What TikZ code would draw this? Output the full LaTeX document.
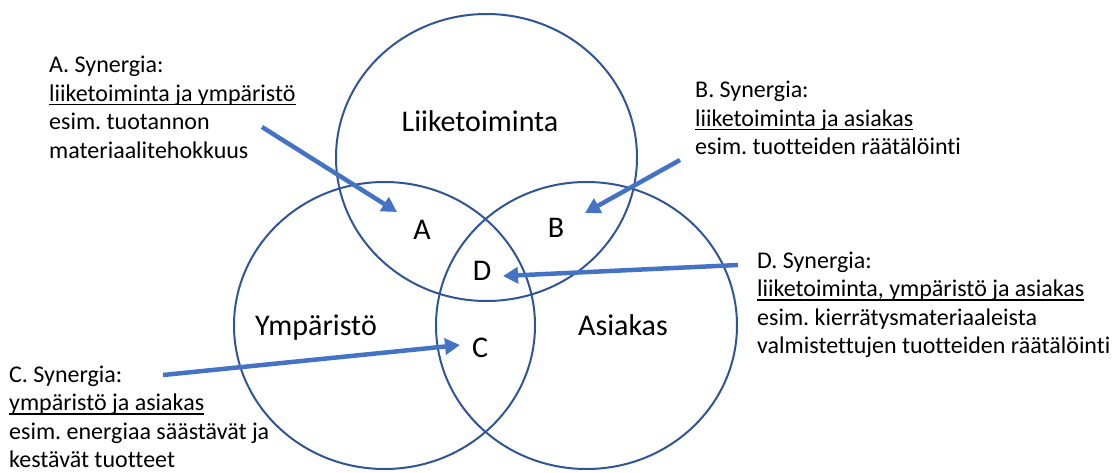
\documentclass[tikz,border=0pt]{standalone}
\usepackage{fontspec}
\setmainfont[Ligatures=NoCommon]{Carlito}
\frenchspacing
\usetikzlibrary{arrows.meta,shapes.geometric}
\definecolor{ringblue}{HTML}{2F5597}
\definecolor{arrowblue}{HTML}{4472C4}
% underline set at a fixed depth below the baseline
\newcommand{\ulbar}[1]{\setbox0=\hbox{#1}\rlap{\rule[-4pt]{\wd0}{1.3pt}}\box0}
% stacked lines whose baseline is that of the first line
\newcommand{\lines}[1]{\vtop{\baselineskip=28.5pt\lineskiplimit=-20pt #1}}
\tikzset{
  ring/.style={ellipse, draw=ringblue, line width=2pt, minimum width=301pt,
    minimum height=287pt, inner sep=0pt},
  setname/.style={font=\fontsize{30}{36}\selectfont, anchor=base, inner sep=0pt},
  note/.style={font=\fontsize{24}{28.5}\selectfont, anchor=base west, inner sep=0pt},
  pointer/.style={draw=arrowblue, line width=4.5pt, -{Triangle[length=15pt,width=16pt]}},
}
\begin{document}
\begin{tikzpicture}[x=1pt,y=-1pt]
\path[use as bounding box] (0,0) rectangle (1116,473);

% the three sets
\node[ring] (biz)  at (486.5,157.5) {};
\node[ring] (env)  at (384.5,325.5) {};
\node[ring] (cust) at (586.5,325.5) {};

% set names
\node[setname] (lbiz)  at (480,132) {Liiketoiminta};
\node[setname] (lenv)  at (316,335) {Ympäristö};
\node[setname] (lcust) at (623,335) {Asiakas};

% overlap letters
\node[setname] (ra) at (422,240) {A};
\node[setname] (rb) at (556,237) {B};
\node[setname] (rd) at (482,280) {D};
\node[setname] (rc) at (480,357) {C};

% explanations
\node[note] (na) at (49,73) {\lines{\hbox{A. Synergia:}
  \hbox{\ulbar{liiketoiminta ja ympäristö}}\hbox{esim. tuotannon}
  \hbox{materiaalitehokkuus}}};
\node[note] (nb) at (695,98) {\lines{\hbox{B. Synergia:}
  \hbox{\ulbar{liiketoiminta ja asiakas}}\hbox{esim. tuotteiden räätälöinti}}};
\node[note] (nd) at (757,268) {\lines{\hbox{D. Synergia:}
  \hbox{\ulbar{liiketoiminta, ympäristö ja asiakas}}
  \hbox{esim. kierrätysmateriaaleista}
  \hbox{valmistettujen tuotteiden räätälöinti}}};
\node[note] (nc) at (9,382) {\lines{\hbox{C. Synergia:}
  \hbox{\ulbar{ympäristö ja asiakas}}\hbox{esim. energiaa säästävät ja}
  \hbox{kestävät tuotteet}}};

% pointers
\coordinate (aStart) at (262,127);  \coordinate (aTip) at (397,212);
\coordinate (bStart) at (680,160);  \coordinate (bTip) at (585,213);
\coordinate (dStart) at (738,265);  \coordinate (dTip) at (503,276);
\coordinate (cStart) at (163,375);  \coordinate (cTip) at (460,345);
\draw[pointer] (aStart) -- (aTip);
\draw[pointer] (bStart) -- (bTip);
\draw[pointer] (dStart) -- (dTip);
\draw[pointer] (cStart) -- (cTip);
\end{tikzpicture}
\end{document}
